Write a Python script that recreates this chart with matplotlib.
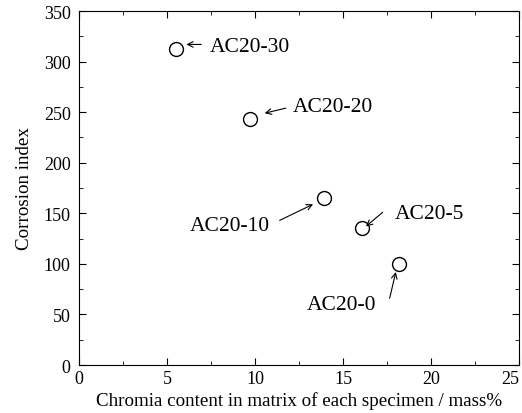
import matplotlib
matplotlib.use("Agg")
import matplotlib.pyplot as plt
from matplotlib.ticker import MultipleLocator

plt.rcParams['font.family'] = ['Liberation Serif', 'DejaVu Serif']

labels = ["AC20-30", "AC20-20", "AC20-10", "AC20-5", "AC20-0"]
chromia = [5.5, 9.7, 13.9, 16.1, 18.2]
corrosion = [312, 243, 165, 135, 100]

# label text (left, middle) and arrow tail/head in data units
text_pos = [(7.45, 315), (12.15, 256), (6.3, 138), (17.95, 150), (12.95, 60)]
arrow_tail = [(6.95, 317), (11.75, 254), (11.4, 143), (17.25, 151), (17.65, 66)]
arrow_head = [(6.1, 317), (10.55, 249), (13.3, 159), (16.3, 137), (18.0, 92)]

fig = plt.figure(figsize=(5.22, 4.14), dpi=100)
ax = fig.add_axes([0.1513, 0.1159, 0.843, 0.855])

ax.plot(chromia, corrosion, 'o', ms=10, mfc='white', mec='black', mew=1.0)

for lab, tp, t, h in zip(labels, text_pos, arrow_tail, arrow_head):
    ax.text(tp[0], tp[1], lab, fontsize=15.5, ha='left', va='center')
    ax.annotate('', xy=h, xytext=t,
                arrowprops=dict(arrowstyle='->', lw=0.8, color='black',
                                shrinkA=0, shrinkB=0))

ax.set_xlim(0, 25)
ax.set_ylim(0, 350)
ax.set_xticks([0, 5, 10, 15, 20, 25])
ax.xaxis.set_minor_locator(MultipleLocator(2.5))
ax.yaxis.set_major_locator(MultipleLocator(50))
ax.yaxis.set_minor_locator(MultipleLocator(25))
ax.tick_params(which='both', direction='in', top=True, right=True, labelsize=13)
ax.tick_params(which='major', length=5)
ax.tick_params(which='minor', length=3)
ax.tick_params(axis='y', pad=6)

ax.set_xlabel("Chromia content in matrix of each specimen / mass%", fontsize=13.7, labelpad=3)
ax.set_ylabel("Corrosion index", fontsize=13.7, labelpad=8)

# keep the last x tick label inside the figure
fig.canvas.draw()
for lbl in ax.get_xticklabels():
    if lbl.get_text() == '25':
        lbl.set_horizontalalignment('right')
        lbl.set_x(24.98)

fig.savefig("out.png", dpi=100)
